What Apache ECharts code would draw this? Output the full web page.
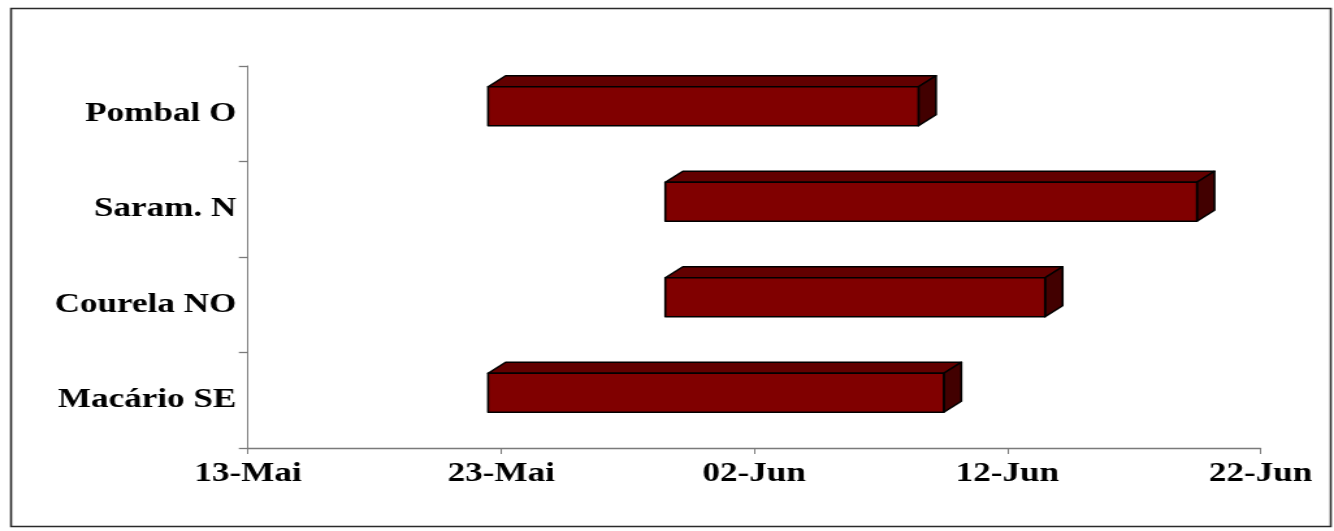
<!DOCTYPE html>
<html>
<head>
<meta charset="utf-8">
<title>Calendário</title>
<script src="https://cdn.jsdelivr.net/npm/echarts@6/dist/echarts.min.js"></script>
<style>
  html, body { margin: 0; padding: 0; background: #ffffff; overflow: hidden; }
  /* the chart is laid out on a narrower canvas and widened to the page */
  #chart { width: 1026px; height: 531px; transform: scaleX(1.30019); transform-origin: 0 0; }
</style>
</head>
<body>
<div id="chart"></div>
<script>
// Sites, bottom to top
const categories = ['Macário SE', 'Courela NO', 'Saram. N', 'Pombal O'];
// Period of each site
const startDates = ['2007-05-23', '2007-05-30', '2007-05-30', '2007-05-23'];
const endDates   = ['2007-06-10', '2007-06-14', '2007-06-20', '2007-06-09'];
// Date axis: first day and tick labels every 10 days
const axisStart = '2007-05-13';
const tickLabels = ['13-Mai', '23-Mai', '02-Jun', '12-Jun', '22-Jun'];

const DAY = 86400000;
const dayOf = s => Math.round((Date.parse(s) - Date.parse(axisStart)) / DAY);

const rows = categories.map((c, i) => [dayOf(startDates[i]), dayOf(endDates[i]), i]);

// box look
const FRONT = '#800000', TOP = '#620000', SIDE = '#420000';
const SHIFT_X = -10, DX = 13.5, DY = -11, UP = 27, DOWN = 12;

function renderBox(params, api) {
  const cat = api.value(2);
  const p0 = api.coord([api.value(0), cat]);
  const p1 = api.coord([api.value(1), cat]);
  const x0 = p0[0] + SHIFT_X, x1 = p1[0] + SHIFT_X;
  const yT = p0[1] - UP, yB = p0[1] + DOWN;
  const edge = { stroke: '#000000', lineWidth: 1.6, lineJoin: 'round' };
  return {
    type: 'group',
    children: [
      { type: 'polygon', shape: { points: [[x0, yT], [x0 + DX, yT + DY], [x1 + DX, yT + DY], [x1, yT]] },
        style: Object.assign({ fill: TOP }, edge) },
      { type: 'polygon', shape: { points: [[x1, yT], [x1 + DX, yT + DY], [x1 + DX, yB + DY], [x1, yB]] },
        style: Object.assign({ fill: SIDE }, edge) },
      { type: 'rect', shape: { x: x0, y: yT, width: x1 - x0, height: yB - yT },
        style: Object.assign({ fill: FRONT }, edge) }
    ]
  };
}

const labelFont = {
  fontFamily: '"Liberation Serif", "Times New Roman", serif',
  fontWeight: 'bold',
  fontSize: 27,
  color: '#000000'
};

const chart = echarts.init(document.getElementById('chart'), null, { renderer: 'canvas' });
chart.setOption({
  animation: false,
  backgroundColor: '#ffffff',
  graphic: [{
    type: 'rect',
    left: 6, top: 6,
    shape: { width: 1015, height: 518 },
    style: { fill: 'none', stroke: '#2a2a2a', lineWidth: 1.6 },
    silent: true
  }],
  grid: { left: 190.7, right: 56.5, top: 66, bottom: 83, containLabel: false },
  xAxis: {
    type: 'value',
    min: 0, max: 40, interval: 10,
    axisLine: { show: true, lineStyle: { color: '#7a7a7a', width: 1.3 } },
    axisTick: { show: true, length: 6, lineStyle: { color: '#7a7a7a', width: 1 } },
    splitLine: { show: false },
    axisLabel: Object.assign({ margin: 13, formatter: v => tickLabels[Math.round(v / 10)] }, labelFont)
  },
  yAxis: {
    type: 'category',
    data: categories,
    axisLine: { show: true, lineStyle: { color: '#7a7a7a', width: 1 } },
    axisTick: { show: true, length: 7, lineStyle: { color: '#7a7a7a', width: 1.3 } },
    splitLine: { show: false },
    axisLabel: Object.assign({ margin: 9 }, labelFont)
  },
  series: [{
    type: 'custom',
    renderItem: renderBox,
    encode: { x: [0, 1], y: 2 },
    data: rows,
    clip: false
  }]
});
</script>
</body>
</html>
